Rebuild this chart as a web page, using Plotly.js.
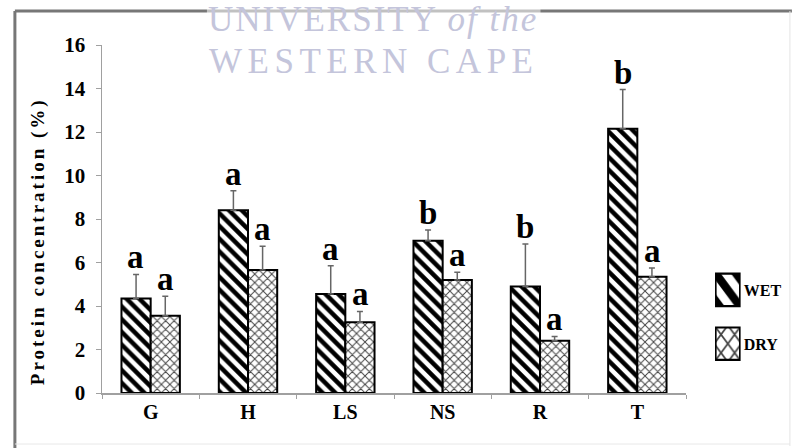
<!DOCTYPE html>
<html>
<head>
<meta charset="utf-8">
<script src="https://cdn.plot.ly/plotly-3.0.1.min.js"></script>
<style>
  html, body { margin: 0; padding: 0; background: #ffffff; }
  #chart { width: 799px; height: 448px; }
</style>
</head>
<body>
<div id="chart"></div>
<script>
// Protein concentration by site, wet vs dry season
const sites = ['G', 'H', 'LS', 'NS', 'R', 'T'];
const wetMean = [4.35, 8.4, 4.55, 7.0, 4.9, 12.15];
const wetErr  = [1.1, 0.9, 1.3, 0.5, 1.95, 1.8];
const dryMean = [3.55, 5.65, 3.25, 5.2, 2.4, 5.35];
const dryErr  = [0.9, 1.1, 0.5, 0.35, 0.2, 0.4];
const wetLetters = ['a', 'a', 'a', 'b', 'b', 'b'];
const dryLetters = ['a', 'a', 'a', 'a', 'a', 'a'];
const yTicks = [0, 2, 4, 6, 8, 10, 12, 14, 16];

// plot-area geometry in pixels, used to place decorations in paper units
const M = { l: 102, r: 107, t: 45, b: 55 };
const W = 799, H = 448;
const PW = W - M.l - M.r, PH = H - M.t - M.b;
const px = x => (x - M.l) / PW;
const py = y => (H - M.b - y) / PH;

const SERIF = 'Liberation Serif';
const BAR_HALF = 14.8;

const wet = {
  type: 'bar', name: 'WET', x: sites, y: wetMean,
  legendgroup: 'wet',
  marker: {
    color: '#ffffff',
    line: { color: '#000000', width: 2 },
    pattern: { shape: '\\', fgcolor: '#000000', bgcolor: '#ffffff', size: 9, solidity: 0.5 }
  },
  error_y: { type: 'data', array: wetErr, arrayminus: wetMean.map(() => 0), symmetric: false,
             color: '#666666', thickness: 1.5, width: 3 },
  hoverinfo: 'skip'
};
const dry = {
  type: 'bar', name: 'DRY', x: sites, y: dryMean,
  legendgroup: 'dry',
  marker: {
    color: '#ffffff',
    line: { color: '#000000', width: 2 },
    pattern: { shape: 'x', fgcolor: '#444444', bgcolor: '#ffffff', size: 6, solidity: 0.3 }
  },
  error_y: { type: 'data', array: dryErr, arrayminus: dryMean.map(() => 0), symmetric: false,
             color: '#666666', thickness: 1.5, width: 3 },
  hoverinfo: 'skip'
};

// significance letters above each error bar
const letterFont = { family: SERIF, size: 33, color: '#000000', weight: 'bold' };
const letterAnns = [];
sites.forEach((s, i) => {
  letterAnns.push({ x: s, y: wetMean[i] + wetErr[i], xref: 'x', yref: 'y', text: wetLetters[i],
    showarrow: false, xshift: -BAR_HALF, xanchor: 'center', yanchor: 'bottom', yshift: -3,
    font: letterFont });
  letterAnns.push({ x: s, y: dryMean[i] + dryErr[i], xref: 'x', yref: 'y', text: dryLetters[i],
    showarrow: false, xshift: BAR_HALF, xanchor: 'center', yanchor: 'bottom', yshift: -3,
    font: letterFont });
});

const watermarkColor = '#c4c5db';
const extraAnns = [
  { xref: 'paper', yref: 'paper', x: px(37), y: py(241), xanchor: 'center', yanchor: 'middle',
    textangle: -90, showarrow: false, text: 'Protein concentration (%)', name: 'ytitle',
    font: { family: SERIF, size: 19, color: '#000000', weight: 'bold' } },
  { xref: 'paper', yref: 'paper', x: px(376), y: py(19), xanchor: 'center', yanchor: 'middle',
    showarrow: false, text: 'UNIVERSITY <i>of the</i>', name: 'wm1',
    font: { family: SERIF, size: 35, color: watermarkColor } },
  { xref: 'paper', yref: 'paper', x: px(376), y: py(61), xanchor: 'center', yanchor: 'middle',
    showarrow: false, text: 'WESTERN CAPE', name: 'wm2',
    font: { family: SERIF, size: 35, color: watermarkColor } }
];

const layout = {
  width: W, height: H,
  margin: M,
  paper_bgcolor: '#ffffff', plot_bgcolor: '#ffffff',
  barmode: 'group', bargap: 0.4, bargroupgap: 0,
  showlegend: true,
  legend: {
    x: px(710), y: py(273), xanchor: 'left', yanchor: 'top',
    traceorder: 'grouped', tracegroupgap: 30,
    bgcolor: 'rgba(0,0,0,0)', itemwidth: 30,
    font: { family: SERIF, size: 16, color: '#000000', weight: 'bold' }
  },
  xaxis: {
    type: 'category', showline: true, linecolor: '#a0a0a0', linewidth: 1.5,
    ticks: 'outside', tickson: 'boundaries', ticklen: 4, tickcolor: '#a0a0a0',
    showgrid: false, zeroline: false,
    tickfont: { family: SERIF, size: 20, color: '#000000', weight: 'bold' }
  },
  yaxis: {
    range: [0, 16], tickvals: yTicks, showline: true, linecolor: '#a0a0a0', linewidth: 1.5,
    ticks: 'outside', ticklen: 5, tickcolor: '#a0a0a0', showgrid: false, zeroline: false,
    ticklabelstandoff: 6,
    tickfont: { family: SERIF, size: 21, color: '#000000', weight: 'bold' }
  },
  shapes: [
    // outer frame: heavy top/left edges, faint right/bottom
    { type: 'line', xref: 'paper', yref: 'paper', x0: px(14), x1: px(799), y0: py(11), y1: py(11),
      line: { color: '#777777', width: 3 } },
    { type: 'line', xref: 'paper', yref: 'paper', x0: px(14), x1: px(14), y0: py(11), y1: py(448),
      line: { color: '#777777', width: 3 } },
    { type: 'line', xref: 'paper', yref: 'paper', x0: px(797), x1: px(797), y0: py(11), y1: py(446),
      line: { color: '#e4e4e4', width: 1 } },
    { type: 'line', xref: 'paper', yref: 'paper', x0: px(14), x1: px(797), y0: py(444), y1: py(444),
      line: { color: '#e8e8e8', width: 1 } },
    // translucent backing behind the watermark
    { type: 'rect', xref: 'paper', yref: 'paper', x0: px(208), x1: px(545), y0: py(0), y1: py(78),
      fillcolor: 'rgba(255,255,255,0.55)', line: { width: 0 } }
  ],
  annotations: letterAnns.concat(extraAnns)
};

Plotly.newPlot('chart', [wet, dry], layout, { staticPlot: true, displayModeBar: false }).then(gd => {
  // widen letter spacing on the rotated axis title and the watermark lines
  const anns = gd.layout.annotations;
  const spacing = { ytitle: '3px', wm1: '2px', wm2: '5.5px' };
  anns.forEach((a, i) => {
    if (spacing[a.name]) {
      const t = gd.querySelector('.annotation[data-index="' + i + '"] text');
      if (t) t.style.letterSpacing = spacing[a.name];
    }
  });
  // enlarge the legend swatches into tall boxes; let them overflow the legend box
  gd.querySelectorAll('.legend [clip-path]').forEach(el => el.removeAttribute('clip-path'));
  gd.querySelectorAll('.legend .legendpoints path').forEach(p => {
    p.setAttribute('transform', 'translate(24,0) scale(2,2.7)');
    p.style.strokeWidth = '0.8px';
  });
});
</script>
</body>
</html>
